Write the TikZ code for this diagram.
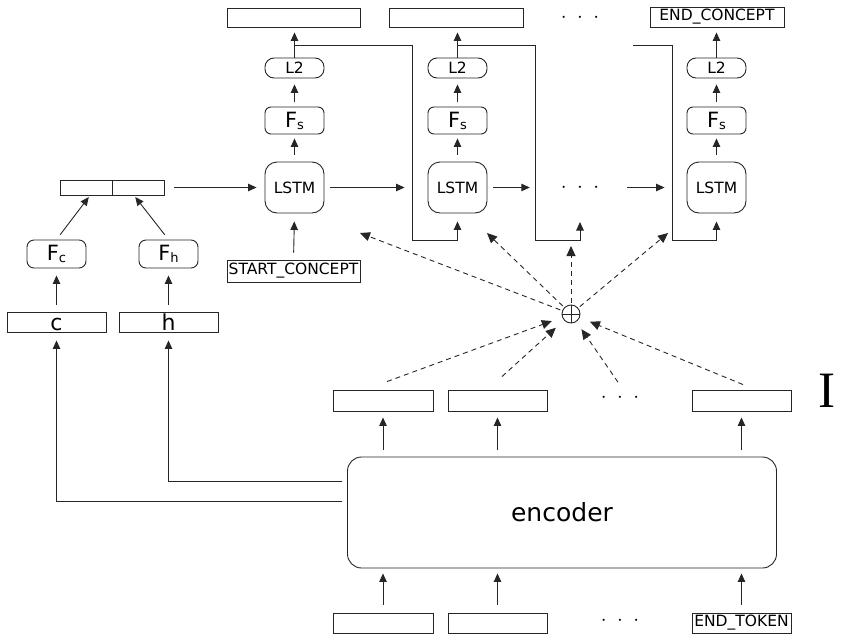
\documentclass[tikz,border=0pt]{standalone}
\usepackage{fontspec}
\newfontfamily\dv{DejaVu Sans}
\newfontfamily\tms{Liberation Serif}
\usetikzlibrary{arrows.meta,calc}
\newcommand\myF[1]{{\fontsize{21}{21}\selectfont F}\raisebox{-2pt}{\fontsize{13}{13}\selectfont #1}}
\newcommand\mydots{$\cdot$\hspace{10.5pt}$\cdot$\hspace{10.5pt}$\cdot$}
\begin{document}
\begin{tikzpicture}[x=1pt,y=-1pt,
  line/.style={draw=black!85, line width=0.9pt},
  arr/.style={line, -{Triangle[length=8.5pt,width=7.5pt]}},
  darr/.style={line, -{Triangle[length=10pt,width=9pt]}, dash pattern=on 5pt off 4pt},
  box/.style={line, rectangle, inner sep=0pt, font=\dv\fontsize{15.5}{15.5}\selectfont},
  rbox/.style={box, rounded corners=#1},
  colnode/.style={minimum width=59pt},
  dotsnode/.style={inner sep=0pt, minimum width=40pt, minimum height=8pt, font=\fontsize{22}{22}\selectfont}
]
\useasboundingbox (0,0) rectangle (844,640);

% top output boxes
\node[box, minimum width=133pt, minimum height=19pt] (outa) at (293.5,17.5) {};
\node[box, minimum width=134pt, minimum height=19pt] (outb) at (456,17.5) {};
\node[dotsnode] (dtop) at (580,18) {\mydots};
\node[box, minimum width=134pt, minimum height=20pt] (outc) at (717,17) {END\_CONCEPT};

% L2
\node[rbox=9pt, colnode, minimum height=20pt] (L2a) at (294.5,68) {L2};
\node[rbox=9pt, colnode, minimum height=20pt] (L2b) at (457.5,68) {L2};
\node[rbox=9pt, colnode, minimum height=20pt] (L2c) at (716.5,68) {L2};
% Fs
\node[rbox=6pt, colnode, minimum height=27pt] (Fsa) at (294.5,120.5) {\myF{s}};
\node[rbox=6pt, colnode, minimum height=27pt] (Fsb) at (457.5,120.5) {\myF{s}};
\node[rbox=6pt, colnode, minimum height=27pt] (Fsc) at (716.5,120.5) {\myF{s}};
% LSTM
\node[rbox=12pt, colnode, minimum height=51pt] (LSTMa) at (294.5,187.5) {LSTM};
\node[rbox=12pt, colnode, minimum height=51pt] (LSTMb) at (457.5,187.5) {LSTM};
\node[dotsnode] (dmid) at (580,187.5) {\mydots};
\node[rbox=12pt, colnode, minimum height=51pt] (LSTMc) at (716.5,187.5) {LSTM};

\node[box, minimum width=133pt, minimum height=22pt] (start) at (293.5,271) {START\_CONCEPT};

% concat
\node[box, minimum width=52pt, minimum height=15pt] (cl) at (86,187.5) {};
\node[box, minimum width=52pt, minimum height=15pt] (cr) at (138,187.5) {};

\node[rbox=7pt, colnode, minimum height=28pt] (Fc) at (56.5,254) {\myF{c}};
\node[rbox=7pt, colnode, minimum height=28pt] (Fh) at (168.5,254) {\myF{h}};

\node[box, minimum width=99pt, minimum height=20pt, text height=16pt, text depth=0pt, font=\dv\fontsize{22}{22}\selectfont] (cbox) at (56.5,322) {c};
\node[box, minimum width=99pt, minimum height=20pt, text height=16pt, text depth=0pt, font=\dv\fontsize{22}{22}\selectfont] (hbox) at (168.5,322) {h};

% sum
\node[line, circle, minimum size=18pt, inner sep=0pt] (sum) at (571,314) {};
\draw[line] (sum.north) -- (sum.south) (sum.west) -- (sum.east);

% encoder outputs
\node[box, minimum width=100pt, minimum height=21pt] (e1) at (383,400.5) {};
\node[box, minimum width=99pt, minimum height=21pt] (e2) at (497.5,400.5) {};
\node[dotsnode] (edots) at (620,398) {\mydots};
\node[box, minimum width=99pt, minimum height=21pt] (e3) at (741.5,400.5) {};
\node[font=\tms\fontsize{51}{51}\selectfont, inner sep=0pt] (Ilab) at (827,391) {I};

\node[rbox=14pt, minimum width=429pt, minimum height=111pt, font=\dv\fontsize{25}{25}\selectfont] (enc) at (562,512.5) {encoder};

% inputs
\node[box, minimum width=100pt, minimum height=20pt] (i1) at (383,623) {};
\node[box, minimum width=99pt, minimum height=20pt] (i2) at (497.5,623) {};
\node[dotsnode] (idots) at (620,621) {\mydots};
\node[box, minimum width=99pt, minimum height=20pt] (i3) at (741.5,623) {END\_TOKEN};

% column arrows
\foreach \c in {a,b,c}{
  \draw[arr, shorten <=7pt, shorten >=4pt] (LSTM\c.north) -- (Fs\c.south);
  \draw[arr, shorten <=5pt, shorten >=6pt] (Fs\c.north) -- (L2\c.south);
  \draw[arr, shorten >=5pt] (L2\c.north) -- (L2\c.north |- out\c.south);
}
\draw[arr, shorten <=7pt, shorten >=8pt] (start.north) -- (LSTMa.south);

% horizontal chain
\draw[arr, shorten <=10pt, shorten >=8pt] (cr.east) -- (LSTMa.west);
\draw[arr, shorten <=6pt, shorten >=23pt] (LSTMa.east) -- (LSTMb.west);
\draw[arr, shorten <=6pt, shorten >=30pt] (LSTMb.east) -- (dmid.west);
\draw[arr, shorten <=27pt, shorten >=22pt] (dmid.east) -- (LSTMc.west);

% feedback lines
\coordinate (fb1) at (294.5,45);
\coordinate (fb1c) at (412,240);
\coordinate (fb2) at (457.5,45);
\coordinate (fb2c) at (535,240);
\coordinate (dotsin) at (580,222);
\coordinate (fb3) at (633,45);
\coordinate (fb3c) at (672,240);
\draw[arr, shorten >=8pt] (fb1) -| (fb1c) -| (LSTMb.south);
\draw[arr] (fb2) -| (fb2c) -| (dotsin);
\draw[arr, shorten >=8pt] (fb3) -| (fb3c) -| (LSTMc.south);

% concat inputs
\draw[arr, shorten <=6pt, shorten >=2pt] (Fc.north) -- ([xshift=4pt]cl.south);
\draw[arr, shorten <=6pt, shorten >=2pt] (Fh.north) -- ([xshift=-4pt]cr.south);
\draw[arr, shorten <=7pt, shorten >=7pt] (cbox.north) -- (Fc.south);
\draw[arr, shorten <=7pt, shorten >=7pt] (hbox.north) -- (Fh.south);

% attention dashed arrows
\coordinate (t1) at (360,233);
\coordinate (t2) at (487,233);
\coordinate (t3) at (571,246);
\coordinate (t4) at (668,233);
\foreach \t in {t1,t2,t3,t4}{\draw[darr, shorten <=2pt] (sum) -- (\t);}
\draw[darr, shorten >=11pt] ([xshift=4pt,yshift=8pt]e1.north) -- (sum);
\draw[darr, shorten >=11pt] ([xshift=4.5pt,yshift=13pt]e2.north) -- (sum);
\draw[darr, shorten >=9pt] ([xshift=-2pt,yshift=11pt]edots.north) -- (sum);
\draw[darr, shorten >=11pt] ([xshift=1.5pt,yshift=5pt]e3.north) -- (sum);

% encoder arrows
\foreach \n in {1,2,3}{
  \draw[arr, shorten <=7pt, shorten >=6pt] (enc.north -| e\n) -- (e\n.south);
  \draw[arr, shorten <=8pt, shorten >=5pt] (i\n.north) -- (i\n.north |- enc.south);
}

\draw[arr, shorten <=5pt, shorten >=8pt] ([yshift=31.5pt]enc.west) -| (hbox.south);
\draw[arr, shorten <=5pt, shorten >=8pt] ([yshift=11.5pt]enc.west) -| (cbox.south);
\end{tikzpicture}
\end{document}
